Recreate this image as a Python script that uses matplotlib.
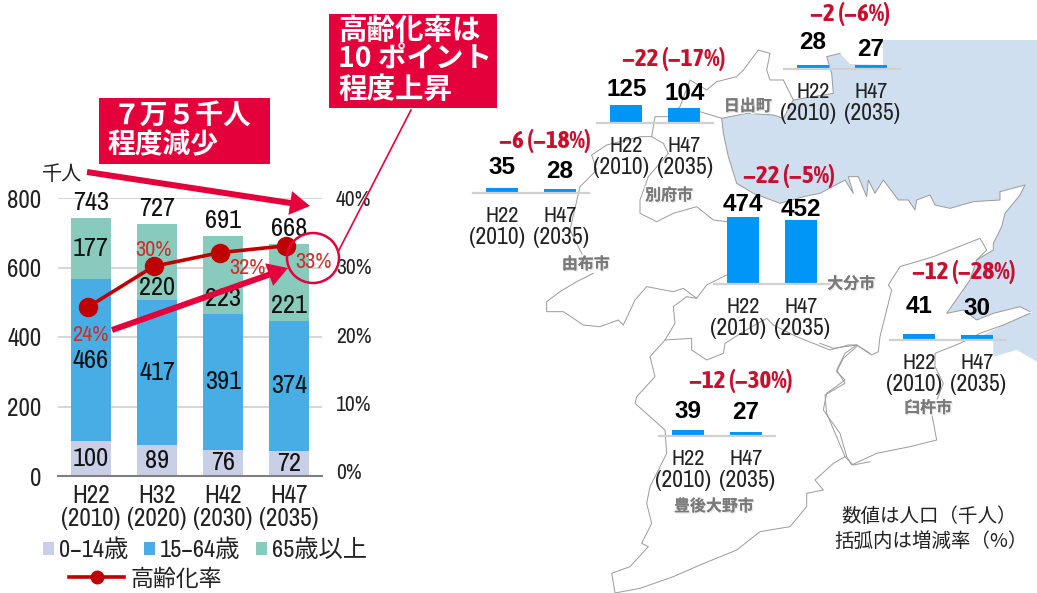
import matplotlib
matplotlib.use("Agg")
import matplotlib.pyplot as plt
from matplotlib.patches import Polygon, Rectangle, Ellipse, FancyArrow
from matplotlib.lines import Line2D
import matplotlib.patheffects as pe
import logging
logging.getLogger("matplotlib.font_manager").setLevel(logging.ERROR)

NARROW = ['Archivo Narrow', 'Noto Sans CJK JP', 'DejaVu Sans']
CJK = ['Noto Sans CJK JP', 'DejaVu Sans']
REDFONT = ['Asap Condensed', 'Noto Sans CJK JP', 'DejaVu Sans']
plt.rcParams['font.family'] = NARROW

# ---- data: prefecture-wide chart
periods = ['H22\n(2010)', 'H32\n(2020)', 'H42\n(2030)', 'H47\n(2035)']
age_0_14 = [100, 89, 76, 72]
age_15_64 = [466, 417, 391, 374]
age_65 = [177, 220, 223, 221]
totals = [743, 727, 691, 668]
aging_rate = [24, 30, 32, 33]
aging_labels = ['24%', '30%', '32%', '33%']

# ---- data: municipalities
cities = ['由布市', '別府市', '日出町', '大分市', '臼杵市', '豊後大野市']
pop_h22 = [35, 125, 28, 474, 41, 39]
pop_h47 = [28, 104, 27, 452, 30, 27]
changes = ['−6 (−18%)', '−22 (−17%)', '−2 (−6%)', '−22 (−5%)', '−12 (−28%)', '−12 (−30%)']

# ---- layout (reference pixels unless noted)
W, H = 1037, 593
RED = '#e4003a'
DARK = '#c00000'
TXT = '#222222'
fig = plt.figure(figsize=(W / 100, H / 100), dpi=100, facecolor='white')


def rect(l, t, w, h):
    return [l / W, 1 - (t + h) / H, w / W, h / H]


def Z(zx, zy):
    return 460 + zx / 2.717, zy / 2.644


def C1(pts):
    return [(540 + a / 3, 260 + b / 3) for a, b in pts]


def C2(pts):
    return [(820 + a / 3, 150 + b / 3) for a, b in pts]


def C3(pts):
    return [(540 + a / 3, 30 + b / 3) for a, b in pts]


def overlay(z):
    a = fig.add_axes([0, 0, 1, 1], zorder=z)
    a.set_xlim(0, W)
    a.set_ylim(H, 0)
    a.axis('off')
    return a


# ---- background map (sketched outline)
bg = overlay(0)
coast_e = C2([(630, 485), (600, 470), (520, 490), (470, 510), (430, 480), (380, 490), (450, 390), (470, 330),
              (520, 300), (520, 280), (545, 230), (555, 190), (600, 135), (615, 105), (540, 125), (540, 150),
              (460, 155), (390, 175), (345, 165), (330, 135), (290, 150), (285, 180), (265, 150), (235, 150),
              (190, 90), (165, 130), (145, 90), (140, 140), (115, 80), (85, 80), (100, 130), (75, 90)])
coast_w = C3([(840, 490), (790, 500), (720, 520), (640, 490), (590, 460), (565, 380), (550, 310), (545, 265),
              (620, 250), (700, 255), (730, 265), (760, 210), (880, 190), (875, 130), (860, 80), (900, 70)])
coast = coast_e + coast_w
sea_main = [(1037, 312)] + coast + [(850, 64), (883, 65), (883, 40), (1037, 40)]
sea_south = C2([(630, 490), (550, 525), (480, 560), (520, 575), (520, 620), (590, 600), (651, 635), (651, 480)])
bg.add_patch(Polygon(sea_main, closed=True, fc='#cfdff0', ec='none'))
bg.add_patch(Polygon(sea_south, closed=True, fc='#cfdff0', ec='none'))
outlines = [
    coast,
    C2([(630, 490), (550, 525), (480, 550), (420, 580), (345, 610), (345, 650), (370, 700), (335, 790), (350, 870),
        (270, 890), (170, 910), (95, 945), (80, 920), (60, 850), (10, 780), (20, 730), (75, 690), (50, 665),
        (70, 625), (110, 590)]),
    C2([(0, 580), (40, 595), (110, 585), (155, 615), (175, 605), (180, 560), (200, 480), (215, 420), (205, 405),
        (240, 350), (340, 320), (480, 265), (500, 300), (470, 330)]),
    C3([(760, 210), (730, 150), (690, 150), (680, 120), (690, 70), (655, 60), (610, 120), (590, 140), (530, 155),
        (500, 180), (450, 150), (420, 230), (385, 260), (345, 260), (335, 320), (300, 320), (200, 345), (155, 375),
        (170, 420), (120, 470), (90, 600), (130, 680)]),
    C3([(385, 260), (480, 245), (545, 265)]),
    C3([(335, 320), (370, 340), (385, 370), (325, 440), (300, 510), (300, 550), (350, 575), (400, 550), (470, 530),
        (520, 570), (560, 575)]),
    C1([(160, 40), (110, 65), (60, 95), (20, 125), (20, 155), (70, 155), (130, 195), (180, 200), (235, 180),
        (250, 195), (285, 120), (320, 80), (400, 95), (430, 85), (470, 115), (500, 75), (560, 45)]),
    C1([(470, 115), (440, 110), (400, 140), (405, 190), (375, 240), (330, 290), (345, 350), (290, 410), (285, 430),
        (330, 470), (375, 510), (380, 580), (330, 680), (320, 730), (335, 790), (305, 850), (325, 860), (270, 920),
        (215, 940), (225, 999), (300, 985), (400, 950), (480, 915), (590, 870), (660, 815), (750, 800), (800, 740),
        (800, 700), (850, 690), (825, 660), (880, 610), (915, 590), (860, 460), (855, 405), (915, 370), (890, 330),
        (915, 280), (950, 255)]),
    C1([(375, 240), (455, 235), (455, 270), (500, 300), (550, 280), (555, 250), (610, 215), (680, 175), (700, 195),
        (770, 230), (870, 270), (925, 255), (950, 255), (990, 280)]),
    C1([(915, 590), (940, 615), (990, 605)]),
]
for line in outlines:
    bg.plot(*zip(*line), color='#9a9a9a', lw=0.7)

# ---- main chart
ax = fig.add_axes(rect(58, 198, 264, 278), zorder=2)
ax.patch.set_alpha(0)
x = list(range(4))
bw = 0.62
b0 = ax.bar(x, age_0_14, bw, color='#c8cfe6', label='0−14歳', zorder=2)
b1 = ax.bar(x, age_15_64, bw, bottom=age_0_14, color='#48ade4', label='15−64歳', zorder=2)
bot2 = [a + b for a, b in zip(age_0_14, age_15_64)]
b2 = ax.bar(x, age_65, bw, bottom=bot2, color='#88cbbd', label='65歳以上', zorder=2)
ax.set_xlim(-0.5, 3.5)
ax.set_ylim(0, 800)
ax.set_yticks([0, 200, 400, 600, 800])
ax.set_xticks(x)
ax.set_xticklabels(periods, fontsize=18, color=TXT, linespacing=1.0)
ax.tick_params(axis='both', length=0, labelsize=18, labelcolor=TXT)
ax.tick_params(axis='y', pad=12)
ax.tick_params(axis='x', pad=6)
ax.grid(axis='y', color='#d0d0d0', lw=1.2, zorder=0)
ax.set_axisbelow(True)
for s in ['top', 'left', 'right']:
    ax.spines[s].set_visible(False)
ax.spines['bottom'].set_color('#808080')
ax.spines['bottom'].set_linewidth(1.5)


def seglabel(xi, y, txt, dy=0):
    ax.annotate(txt, (xi, y), xytext=(0, -dy), textcoords='offset pixels', ha='center', va='center',
                fontsize=19, color='#111111', zorder=6)


shift65 = [0, 26, 24, 23]
for i in x:
    seglabel(i, age_0_14[i] / 2, str(age_0_14[i]))
    seglabel(i, age_0_14[i] + age_15_64[i] / 2, str(age_15_64[i]))
    seglabel(i, bot2[i] + age_65[i] / 2, str(age_65[i]), shift65[i])
    ax.annotate(str(totals[i]), (i, totals[i]), xytext=(0, 15), textcoords='offset pixels', ha='center',
                va='center', fontsize=19, color='#111111', zorder=6)

ax2 = ax.twinx()
ax2.set_zorder(3)
ax2.patch.set_alpha(0)
ax2.set_ylim(-0.7, 40)
ax2.set_yticks([0, 10, 20, 30, 40])
ax2.set_yticklabels(['0%', '10%', '20%', '30%', '40%'])
ax2.tick_params(axis='y', length=0, labelsize=15.5, labelcolor=TXT, pad=10)
for s in ax2.spines.values():
    s.set_visible(False)
ln, = ax2.plot([i - 0.05 for i in x], aging_rate, color=DARK, lw=2.6, marker='o', ms=13, label='高齢化率', zorder=5)
lab_off = [(3, -28), (0, 16), (28, -15), (28, -16)]
for i in x:
    ax2.annotate(aging_labels[i], (i - 0.05, aging_rate[i]), xytext=lab_off[i], textcoords='offset pixels',
                 ha='center', va='center', fontsize=16, color='#c9302c', zorder=7)

# ---- municipality mini bar charts
base_left = [35, 373, 880, 690, 1168, 540]
base_y = [510, 325, 182, 750, 898, 1152]
val_off = [(20, 17), (16, 15), (22, 16), (12, 10), (27, 27), (19, 19)]
chg_pos = [(230, 373), (580, 157), (1060, 37), (893, 465), (1370, 718), (763, 1007)]
name_pos = [(342, 698), (568, 516), (782, 280), (1063, 750), (1272, 1078), (690, 1338)]
for k in range(6):
    l, b = Z(base_left[k], base_y[k])
    m = fig.add_axes(rect(l, b - 85, 116, 85), zorder=4)
    m.patch.set_alpha(0)
    m.axis('off')
    m.set_xlim(-0.5, 1.5)
    m.set_ylim(0, 600)
    vals = [pop_h22[k], pop_h47[k]]
    m.bar([0, 1], vals, 0.557, color='#0096f8', zorder=2)
    m.axhline(0, color='#d0d0d0', lw=1.6, clip_on=False, zorder=3)
    for j, v in enumerate(vals):
        m.annotate(str(v), (j, v), xytext=(0, val_off[k][j]), textcoords='offset pixels', ha='center',
                   va='center', fontsize=17.5, fontweight='bold', family='Liberation Sans', color='black',
                   annotation_clip=False)
    m.annotate('H22', (0, 0), xytext=(0, -23), textcoords='offset pixels', ha='center', va='center',
               fontsize=16, color=TXT, annotation_clip=False)
    m.annotate('(2010)', (0, 0), xytext=(-5, -45), textcoords='offset pixels', ha='center', va='center',
               fontsize=17, color=TXT, annotation_clip=False)
    m.annotate('H47', (1, 0), xytext=(0, -23), textcoords='offset pixels', ha='center', va='center',
               fontsize=16, color=TXT, annotation_clip=False)
    m.annotate('(2035)', (1, 0), xytext=(1, -45), textcoords='offset pixels', ha='center', va='center',
               fontsize=17, color=TXT, annotation_clip=False)

# ---- foreground annotations
fg = overlay(6)
for k in range(6):
    px, py = Z(*chg_pos[k])
    fg.text(px, py, changes[k], ha='center', va='center', fontsize=18, fontweight='bold', family=REDFONT,
            color='#c8102e')
    px, py = Z(*name_pos[k])
    fg.text(px, py, cities[k], ha='center', va='center', fontsize=11.5, fontweight='bold', family=CJK,
            color='#7a7a7a',
            path_effects=[pe.withStroke(linewidth=2.5, foreground='white'),
                          pe.SimplePatchShadow(offset=(1, -1), shadow_rgbFace='#bbbbbb'), pe.Normal()])

fg.text(929, 516, '数値は人口（千人）', ha='center', va='center', fontsize=14, family=CJK, color=TXT)
fg.text(931, 541, '括弧内は増減率（%）', ha='center', va='center', fontsize=14, family=CJK, color=TXT)
fg.text(62, 174, '千人', ha='center', va='center', fontsize=14.5, family=CJK, color=TXT)

fg.add_patch(Rectangle((99, 98), 171, 66, fc=RED, ec='none'))
fg.text(113, 116, '７万５千人', ha='left', va='center', fontsize=20, fontweight='bold', family=CJK, color='white')
fg.text(107, 145, '程度減少', ha='left', va='center', fontsize=20, fontweight='bold', family=CJK, color='white')

fg.add_patch(Rectangle((329, 14), 168, 94, fc=RED, ec='none'))
fg.text(338, 31, '高齢化率は', ha='left', va='center', fontsize=20.5, fontweight='bold', family=CJK, color='white')
fg.text(338, 60, '10 ポイント', ha='left', va='center', fontsize=20.5, fontweight='bold', family=CJK, color='white')
fg.text(338, 90, '程度上昇', ha='left', va='center', fontsize=20.5, fontweight='bold', family=CJK, color='white')

fg.add_patch(FancyArrow(87, 172, 223, 34, width=6, head_width=24, head_length=20, length_includes_head=True,
                        fc=RED, ec='none'))
fg.add_patch(FancyArrow(112, 330, 176, -62, width=6, head_width=24, head_length=20, length_includes_head=True,
                        fc=RED, ec='none'))
fg.add_patch(Ellipse((313, 258), 52, 50, fc='none', ec=RED, lw=1.8))
fg.plot([411, 338], [110, 252], color=RED, lw=1.2)

# ---- legends
lg1 = fg.legend(handles=[b0, b1, b2], ncol=3, loc='center left', bbox_to_anchor=(43 / W, 1 - 550 / H),
                bbox_transform=fig.transFigure, frameon=False,
                prop={'family': NARROW, 'size': 17.5}, handlelength=0.45, handleheight=0.45, handletextpad=0.2,
                columnspacing=0.65, borderpad=0, borderaxespad=0, labelcolor=TXT)
fg.add_artist(lg1)
proxy = Line2D([], [], color=DARK, lw=2.6, marker='o', ms=9)
lg2 = fg.legend(handles=[proxy], labels=['高齢化率'], loc='center left', bbox_to_anchor=(69 / W, 1 - 579 / H),
                bbox_transform=fig.transFigure, frameon=False,
                prop={'family': CJK, 'size': 16.5}, handlelength=2.4, handletextpad=0.3, borderpad=0,
                borderaxespad=0, labelcolor=TXT)

fig.savefig('out.png', dpi=100, facecolor='white')
